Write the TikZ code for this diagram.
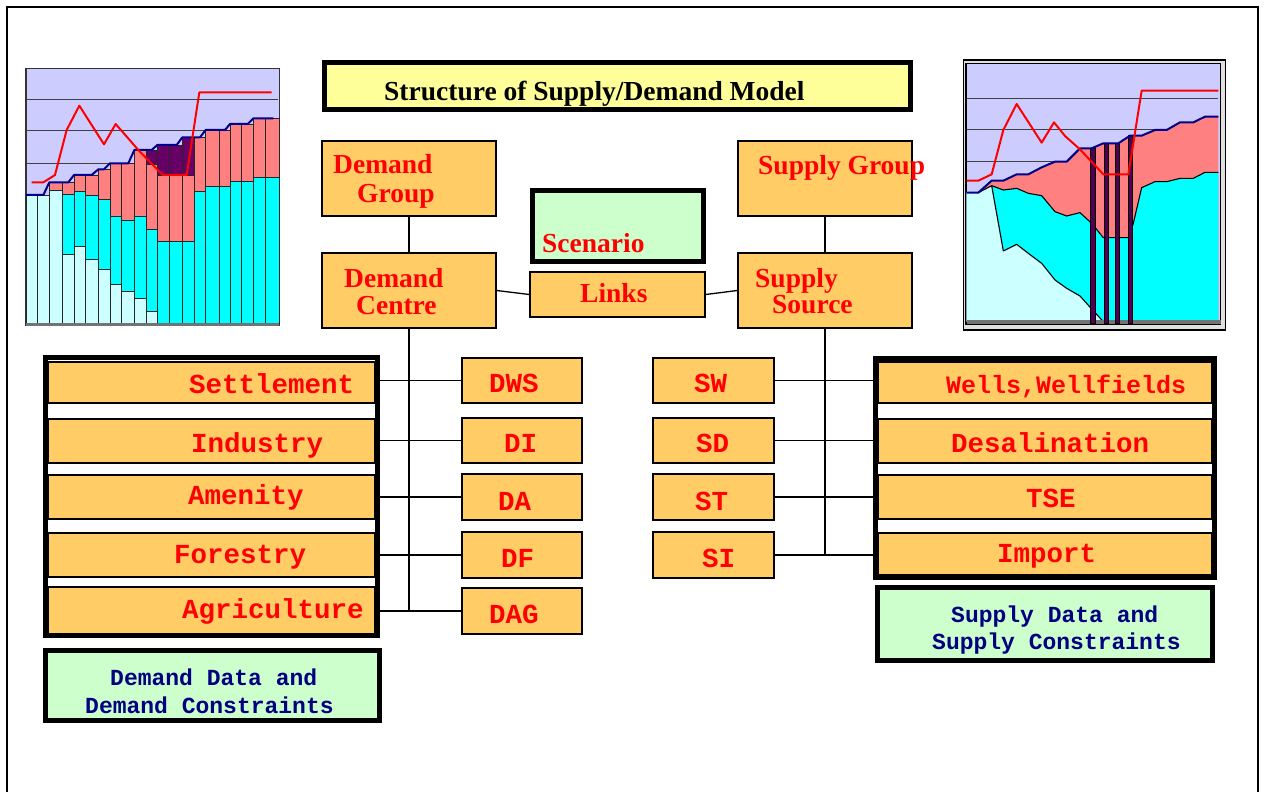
\documentclass[tikz,border=0pt]{standalone}
\usepackage{fontspec}
\setmainfont{Liberation Serif}
\newfontfamily\monob{Liberation Mono}
\usetikzlibrary{fit}

\definecolor{boxorange}{RGB}{255,204,102}
\definecolor{mint}{RGB}{204,255,204}
\definecolor{titleyellow}{RGB}{255,255,153}
\definecolor{labred}{RGB}{255,0,0}
\definecolor{datablue}{RGB}{0,0,128}
\definecolor{lavender}{RGB}{204,204,255}
\definecolor{paleaqua}{RGB}{204,255,255}
\definecolor{aqua}{RGB}{0,255,255}
\definecolor{salmon}{RGB}{255,128,128}
\definecolor{plum}{RGB}{102,0,102}
\definecolor{darkplum}{RGB}{80,0,80}
\definecolor{chartblue}{RGB}{0,0,140}

\tikzset{
  orangebox/.style={draw=black, line width=1.3pt, fill=boxorange, inner sep=0pt},
  thickframe/.style={draw=black, line width=5pt, inner sep=0pt},
  wire/.style={draw=black, line width=1.3pt},
  serlab/.style={font=\bfseries\fontsize{27.5}{30}\selectfont, text=labred, inner sep=0pt, anchor=base west},
  monolab/.style={font=\monob\bfseries\fontsize{27.5}{30}\selectfont, text=labred, inner sep=0pt, anchor=base west},
  datalab/.style={font=\monob\bfseries\fontsize{23}{26}\selectfont, text=datablue, inner sep=0pt, anchor=base west},
  barcell/.style={draw=black!85, line width=0.9pt},
  grid line/.style={draw=black!75, line width=1pt},
  redtrace/.style={draw=red, line width=2pt, line join=round},
  bluetrace/.style={draw=chartblue, line width=2pt, line join=round},
}

\begin{document}
\begin{tikzpicture}[x=1pt,y=-1pt]
\useasboundingbox (0,0) rectangle (1264,792);
\fill[white] (0,0) rectangle (1264,792);

% page frame, open at the bottom
\draw[line width=2.2pt] (7,800) -- (7,7) -- (1258,7) -- (1258,800);

% ---------------- demand chart (stacked bars) ----------------
\begin{scope}[shift={(20,60)}, x=0.33333pt, y=-0.33333pt]
  \filldraw[fill=lavender, draw=black!80, line width=1.2pt] (18,25) rectangle (778,797);
  \draw[grid line] (18,120) -- (775,120);
  \draw[grid line] (18,212) -- (775,212);
  \draw[grid line] (18,312) -- (775,312);
  \foreach \l/\r/\a/\b/\c/\d in {
      18/52/405/405/405/405, 52/88/405/405/405/405, 88/127/392/392/367/367,
      127/162/582/402/367/367, 162/197/560/395/345/345, 197/235/598/407/345/345,
      235/270/627/418/328/328, 270/305/672/468/310/310, 305/343/693/480/310/310,
      343/378/716/468/270/270, 378/412/755/508/312/270, 412/448/790/543/345/255,
      448/487/790/543/345/255, 487/522/790/543/345/232, 522/557/790/395/232/232,
      557/597/790/380/210/210, 597/630/790/380/210/210, 630/665/790/363/192/192,
      665/700/790/363/192/192, 700/737/790/352/175/175, 737/778/790/352/175/175} {
    \filldraw[barcell, fill=paleaqua] (\l,790) rectangle (\r,\a);
    \filldraw[barcell, fill=aqua] (\l,\a) rectangle (\r,\b);
    \filldraw[barcell, fill=salmon] (\l,\b) rectangle (\r,\c);
    \filldraw[barcell, fill=plum] (\l,\c) rectangle (\r,\d);
  }
  \fill[black!55] (18,790) rectangle (778,797);
  \draw[bluetrace] (18,405) -- (70,405) -- (88,367) -- (145,367) -- (162,345) -- (215,345)
    -- (235,328) -- (252,328) -- (270,310) -- (325,310) -- (343,270) -- (395,270)
    -- (412,255) -- (470,255) -- (487,232) -- (540,232) -- (557,210) -- (615,210)
    -- (630,192) -- (683,192) -- (700,175) -- (760,175);
  \draw[redtrace] (35,367) -- (70,367) -- (105,345) -- (140,210) -- (178,137) -- (252,253)
    -- (287,192) -- (355,270) -- (428,345) -- (500,345) -- (538,97) -- (755,97);
\end{scope}

% ---------------- supply chart (stacked areas) ----------------
\begin{scope}[shift={(955,55)}, x=0.33333pt, y=-0.33333pt]
  \filldraw[fill=black!12, draw=black, line width=1.4pt] (25,15) rectangle (812,825);
  \filldraw[fill=lavender, draw=black, line width=1.2pt] (33,25) rectangle (797,808);
  \draw[grid line] (35,130) -- (790,130);
  \draw[grid line] (35,225) -- (790,225);
  \draw[grid line] (35,320) -- (790,320);
  % salmon band (up to the total line)
  \fill[salmon] (35,413) -- (70,413) -- (110,377) -- (145,377) -- (185,358) -- (220,358)
    -- (260,337) -- (300,320) -- (335,320) -- (375,280) -- (410,280) -- (445,265)
    -- (490,265) -- (525,242) -- (560,242) -- (600,225) -- (635,225) -- (675,202)
    -- (715,202) -- (750,185) -- (790,185) -- (790,800) -- (35,800) -- cycle;
  % cyan band
  \fill[aqua] (35,413) -- (70,413) -- (110,392) -- (145,405) -- (185,400) -- (220,415)
    -- (260,422) -- (300,470) -- (335,483) -- (375,473) -- (410,505) -- (445,548)
    -- (520,548) -- (535,505) -- (560,398) -- (600,380) -- (635,380) -- (675,370)
    -- (715,370) -- (750,352) -- (790,352) -- (790,800) -- (35,800) -- cycle;
  % pale cyan band
  \fill[paleaqua] (35,413) -- (70,413) -- (110,392) -- (145,588) -- (185,568) -- (220,595)
    -- (260,625) -- (300,675) -- (335,700) -- (375,723) -- (410,762) -- (445,800)
    -- (35,800) -- cycle;
  \draw[black, line width=1.1pt, line join=round] (70,413) -- (110,392) -- (145,405) -- (185,400)
    -- (220,415) -- (260,422) -- (300,470) -- (335,483) -- (375,473) -- (410,505) -- (445,548)
    -- (520,548) -- (535,505) -- (560,398) -- (600,380) -- (635,380) -- (675,370)
    -- (715,370) -- (750,352) -- (790,352);
  \draw[black, line width=1.1pt, line join=round] (110,392) -- (145,588) -- (185,568) -- (220,595)
    -- (260,625) -- (300,675) -- (335,700) -- (375,723) -- (410,762) -- (445,800);
  \fill[black!55] (35,795) rectangle (797,806);
  \foreach \l/\r/\t in {405/420/280, 447/460/265, 482/494/265, 520/533/242} {
    \filldraw[fill=darkplum, draw=black, line width=1pt] (\l,\t) rectangle (\r,805);
  }
  \draw[bluetrace] (35,413) -- (70,413) -- (110,377) -- (145,377) -- (185,358) -- (220,358)
    -- (260,337) -- (300,320) -- (335,320) -- (375,280) -- (410,280) -- (445,265)
    -- (490,265) -- (525,242) -- (560,242) -- (600,225) -- (635,225) -- (675,202)
    -- (715,202) -- (750,185) -- (790,185);
  \draw[redtrace] (35,377) -- (70,377) -- (110,358) -- (145,225) -- (185,147) -- (260,263)
    -- (297,202) -- (330,243) -- (375,283) -- (445,358) -- (520,358) -- (560,107) -- (790,107);
\end{scope}

% ---------------- title ----------------
\node[thickframe, fill=titleyellow, fit={(324.5,62.5)(910.5,109.5)}] (title) {};
\node[anchor=base west, inner sep=0pt, font=\bfseries\fontsize{27.5}{30}\selectfont] (titletext) at (384,100) {Structure of Supply/Demand Model};

% ---------------- central hierarchy ----------------
\node[orangebox, fit={(322,141)(496,216)}] (dg) {};
\node[orangebox, fit={(322,253)(496,328)}] (dc) {};
\node[orangebox, fit={(530,272)(705,317)}] (lk) {};
\node[orangebox, fit={(738,141)(912,216)}] (sg) {};
\node[orangebox, fit={(738,253)(912,328)}] (ss) {};
\node[thickframe, fill=mint, fit={(532.5,190.5)(703.5,261.5)}] (scen) {};

\node[serlab] (dg1) at (333,173) {Demand};
\node[serlab] (dg2) at (357,202) {Group};
\node[serlab] (dc1) at (344,287) {Demand};
\node[serlab] (dc2) at (356,314) {Centre};
\node[serlab] (lk1) at (580,302) {Links};
\node[serlab] (sc1) at (542,252) {Scenario};
\node[serlab] (sg1) at (758,174) {Supply Group};
\node[serlab] (ss1) at (755,287) {Supply};
\node[serlab] (ss2) at (772,313) {Source};

\draw[wire] (dg.south) -- (dc.north);
\draw[wire] (sg.south) -- (ss.north);
\draw[wire] (dc.east) -- (lk.west);
\draw[wire] (lk.east) -- (ss.west);

% ---------------- demand side ----------------
\node[orangebox, fit={(48,362)(375,403)}] (settle) {};
\node[orangebox, fit={(48,419)(375,463)}] (indus) {};
\node[orangebox, fit={(48,475)(375,519)}] (amen) {};
\node[orangebox, fit={(48,533)(375,577)}] (forest) {};
\node[orangebox, fit={(48,587)(375,635)}] (agri) {};
\node[thickframe, fit={(45.5,357.5)(377.5,635.5)}] (lg) {};

\node[monolab] (settlet) at (189,393) {Settlement};
\node[monolab] (indust) at (191,452) {Industry};
\node[monolab] (ament) at (188,504) {Amenity};
\node[monolab] (forestt) at (174,563) {Forestry};
\node[monolab] (agrit) at (182,618) {Agriculture};

\node[orangebox, fit={(462,358)(582,403)}] (dws) {};
\node[orangebox, fit={(462,418)(582,463)}] (di) {};
\node[orangebox, fit={(462,474)(582,520)}] (da) {};
\node[orangebox, fit={(462,532)(582,578)}] (df) {};
\node[orangebox, fit={(462,588)(582,634)}] (dag) {};
\node[monolab] (dwst) at (489,392) {DWS};
\node[monolab] (dit) at (504,452) {DI};
\node[monolab] (dat) at (498,510) {DA};
\node[monolab] (dft) at (501,567) {DF};
\node[monolab] (dagt) at (489,623) {DAG};

\draw[wire] (dc.south) -- (dc.south |- dag.west);
\foreach \n in {dws,di,da,df,dag} {
  \draw[wire] (\n.west) -- (\n.west -| lg.east);
}

\node[thickframe, fill=mint, fit={(45.5,650.5)(379.5,720.5)}] (ddata) {};
\node[datalab] (dd1) at (110,685) {Demand Data and};
\node[datalab] (dd2) at (85,713) {Demand Constraints};

% ---------------- supply side ----------------
\node[orangebox, fit={(653,358)(774,403)}] (sw) {};
\node[orangebox, fit={(653,418)(774,463)}] (sd) {};
\node[orangebox, fit={(653,474)(774,520)}] (st) {};
\node[orangebox, fit={(653,532)(774,578)}] (si) {};
\node[monolab] (swt) at (694,392) {SW};
\node[monolab] (sdt) at (696,452) {SD};
\node[monolab] (stt) at (695,510) {ST};
\node[monolab] (sit) at (702,567) {SI};

\node[orangebox, fit={(878,362)(1212,403)}] (wells) {};
\node[orangebox, fit={(878,419)(1212,463)}] (desal) {};
\node[orangebox, fit={(878,475)(1212,519)}] (tse) {};
\node[orangebox, fit={(878,533)(1212,575)}] (imp) {};
\node[thickframe, fit={(875.5,358.5)(1214.5,577.5)}] (rg) {};

\node[monolab, font=\monob\bfseries\fontsize{25}{28}\selectfont] (wellst) at (946,393) {Wells,Wellfields};
\node[monolab] (desalt) at (951,452) {Desalination};
\node[monolab] (tset) at (1026,507) {TSE};
\node[monolab] (impt) at (997,562) {Import};

\draw[wire] (ss.south) -- (ss.south |- si.east);
\foreach \n in {sw,sd,st,si} {
  \draw[wire] (\n.east) -- (\n.east -| rg.west);
}

\node[thickframe, fill=mint, fit={(877.5,587.5)(1212.5,660.5)}] (sdata) {};
\node[datalab] (sd1) at (951,622) {Supply Data and};
\node[datalab] (sd2) at (932,649) {Supply Constraints};
\end{tikzpicture}
\end{document}
